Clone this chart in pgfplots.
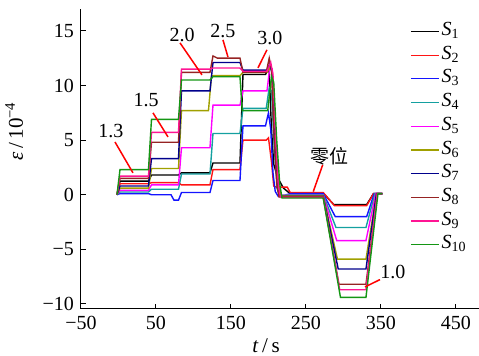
\documentclass[border=0pt]{standalone}
\usepackage{fontspec}
\setmainfont{Liberation Serif}
\newfontfamily\cjk{Noto Sans CJK SC}
\usepackage{pgfplots}
\pgfplotsset{compat=1.18}
\definecolor{sA}{RGB}{0,0,0}
\definecolor{sB}{RGB}{255,20,20}
\definecolor{sC}{RGB}{20,20,255}
\definecolor{sD}{RGB}{20,160,160}
\definecolor{sE}{RGB}{255,0,255}
\definecolor{sF}{RGB}{160,160,0}
\definecolor{sG}{RGB}{0,0,140}
\definecolor{sH}{RGB}{150,35,35}
\definecolor{sI}{RGB}{255,20,147}
\definecolor{sJ}{RGB}{20,150,20}
\begin{document}
\begin{tikzpicture}
\path[use as bounding box] (-40.5pt,-23.5pt) rectangle (199pt,154.5pt);
\begin{axis}[
  scale only axis, width=199pt, height=150pt,
  at={(0pt,0pt)}, anchor=south west,
  xmin=-50, xmax=480.7, ymin=-10.46, ymax=17,
  axis x line*=bottom, axis y line*=left,
  tick align=inside, major tick length=2.5pt,
  xtick={-50,50,150,250,350,450}, xticklabels={−50,50,150,250,350,450},
  ytick={-10,-5,0,5,10,15}, yticklabels={−10,−5,0,5,10,15},
  tick label style={font=\fontsize{10}{12}\selectfont},
  axis line style={line width=0.5pt},
  tick style={line width=0.5pt, black},
  xlabel={\textit{t}\,/\,s}, ylabel={\textit{ε}\,/\,10\textsuperscript{−4}},
  xlabel style={at={(axis description cs:0.465,-0.123)}, anchor=center, font=\fontsize{10.5}{12}\selectfont},
  ylabel style={at={(axis description cs:-0.168,0.593)}, anchor=center, font=\fontsize{10.5}{12}\selectfont},
  clip=false,
  every axis plot/.append style={line width=0.7pt},
  legend cell align=left,
  legend image code/.code={\draw[#1, line width=0.6pt] (0pt,0pt) -- (14pt,0pt);},
  legend style={draw=none, fill=none, at={(axis description cs:0.8266,0.966)}, anchor=north west,
    inner sep=0pt, row sep=0pt,
    nodes={inner sep=1pt, text height=7pt, text depth=2.85pt, font=\fontsize{10}{12}\selectfont}},
]
\addplot[sA] coordinates {(-2,0)(2,1.25)(40,1.25)(44,1.8)(80,1.8)(84,2.0)(122,2.0)(126,2.9)(162,2.9)(166,11.0)(196,11.0)(199,11.4)(201,11.2)(204,6)(207,2.8)(212,1.6)(220,0.6)(228,0.15)(273,0.15)(287,-0.9)(331,-0.9)(340,0.1)(352,0.1)};
\addlegendentry{\textit{S}\textsubscript{1}}
\addplot[sB] coordinates {(-2,0)(2,1.0)(40,1.0)(44,1.1)(80,1.1)(84,0.9)(122,0.9)(126,2.3)(162,2.3)(166,5.0)(197,5.0)(200,5.2)(204,3)(207,0.8)(210,0.7)(225,0.7)(229,0.2)(273,0.2)(288,-1.0)(331,-1.0)(340,0.1)(352,0.1)};
\addlegendentry{\textit{S}\textsubscript{2}}
\addplot[sC] coordinates {(-2,0)(2,0.1)(40,0.1)(44,0.0)(70,0.0)(74,-0.5)(80,-0.5)(84,0.2)(122,0.2)(126,1.3)(162,1.3)(166,6.3)(196,6.3)(200,7.5)(203,6)(206,2)(209,0.3)(213,-0.15)(218,-0.2)(224,0.0)(230,0.1)(273,0.1)(289,-2.0)(331,-2.0)(341,0.1)(352,0.1)};
\addlegendentry{\textit{S}\textsubscript{3}}
\addplot[sD] coordinates {(-2,0)(2,0.25)(40,0.25)(44,0.5)(80,0.5)(84,1.9)(122,1.9)(126,5.6)(162,5.6)(166,7.9)(197,7.9)(201,9.8)(204,9.5)(208,4)(212,0.5)(216,-0.05)(230,0.0)(273,0.0)(290,-3.0)(330,-3.0)(342,0.1)(352,0.1)};
\addlegendentry{\textit{S}\textsubscript{4}}
\addplot[sE] coordinates {(-2,0)(2,0.4)(40,0.4)(44,0.9)(80,0.9)(84,4.3)(122,4.3)(126,8.2)(162,8.2)(166,9.5)(198,9.5)(202,11.8)(205,11.5)(209,6)(213,1)(216,-0.05)(273,-0.05)(291,-4.2)(330,-4.2)(343,0.1)(352,0.1)};
\addlegendentry{\textit{S}\textsubscript{5}}
\addplot[sF] coordinates {(-2,0)(2,0.6)(40,0.6)(44,2.4)(80,2.4)(84,7.7)(120,7.7)(124,10.9)(162,10.9)(166,11.2)(198,11.2)(202,11.6)(205,11.3)(209,6)(213,1)(217,-0.1)(273,-0.1)(292,-5.9)(330,-5.9)(344,0.1)(352,0.1)};
\addlegendentry{\textit{S}\textsubscript{6}}
\addplot[sG] coordinates {(-2,0)(2,0.8)(40,0.8)(44,3.3)(80,3.3)(84,9.5)(122,9.5)(126,12.1)(162,12.1)(166,11.4)(198,11.4)(202,12.0)(205,11)(208,5)(212,0.5)(215,-0.15)(273,-0.15)(293,-6.8)(330,-6.8)(344,0.1)(352,0.1)};
\addlegendentry{\textit{S}\textsubscript{7}}
\addplot[sH] coordinates {(-2,0)(2,1.5)(40,1.5)(44,4.8)(80,4.8)(84,11.2)(122,11.2)(126,12.7)(132,12.5)(162,12.5)(166,11.2)(197,11.2)(201,12.5)(204,11.5)(207,6)(211,1)(214,-0.2)(273,-0.2)(294,-8.2)(330,-8.2)(345,0.1)(352,0.1)};
\addlegendentry{\textit{S}\textsubscript{8}}
\addplot[sI] coordinates {(-2,0)(2,1.7)(40,1.7)(44,5.7)(80,5.7)(84,11.5)(122,11.5)(126,11.6)(162,11.6)(166,11.3)(198,11.3)(203,12.1)(206,11)(209,6)(213,1)(216,-0.25)(273,-0.25)(295,-8.7)(330,-8.7)(345,0.1)(352,0.1)};
\addlegendentry{\textit{S}\textsubscript{9}}
\addplot[sJ] coordinates {(-2,0)(2,2.3)(40,2.3)(44,6.9)(80,6.9)(84,10.5)(122,10.5)(126,10.8)(162,10.8)(165,7.7)(199,7.7)(204,10.8)(207,10.3)(211,5)(215,1)(218,-0.3)(273,-0.3)(296,-9.4)(330,-9.4)(346,0.1)(352,0.1)};
\addlegendentry{\textit{S}\textsubscript{10}}
% annotations
\draw[red, line width=0.75pt] (axis cs:-4.7,4.83) -- (axis cs:19.3,2.0);
\node[font=\fontsize{10}{12}\selectfont] at (axis cs:-10,5.84) {1.3};
\draw[red, line width=0.75pt] (axis cs:46,7.49) -- (axis cs:66,5.29);
\node[font=\fontsize{10}{12}\selectfont] at (axis cs:36.7,8.68) {1.5};
\draw[red, line width=0.75pt] (axis cs:82,13.9) -- (axis cs:111.3,10.97);
\node[font=\fontsize{10}{12}\selectfont] at (axis cs:84.7,14.63) {2.0};
\draw[red, line width=0.75pt] (axis cs:139.3,14.17) -- (axis cs:146,12.6);
\node[font=\fontsize{10}{12}\selectfont] at (axis cs:139.3,15.0) {2.5};
\draw[red, line width=0.75pt] (axis cs:198,13.26) -- (axis cs:186,11.61);
\node[font=\fontsize{10}{12}\selectfont] at (axis cs:202,14.36) {3.0};
\draw[red, line width=0.75pt] (axis cs:272.3,2.73) -- (axis cs:259.7,0.28);
\node[font=\cjk\fontsize{9.5}{12}\selectfont] at (axis cs:282,3.55) {零位};
\draw[red, line width=0.75pt] (axis cs:348.7,-7.77) -- (axis cs:328.7,-8.44);
\node[font=\fontsize{10}{12}\selectfont] at (axis cs:366,-7.06) {1.0};
\end{axis}
\end{tikzpicture}
\end{document}
